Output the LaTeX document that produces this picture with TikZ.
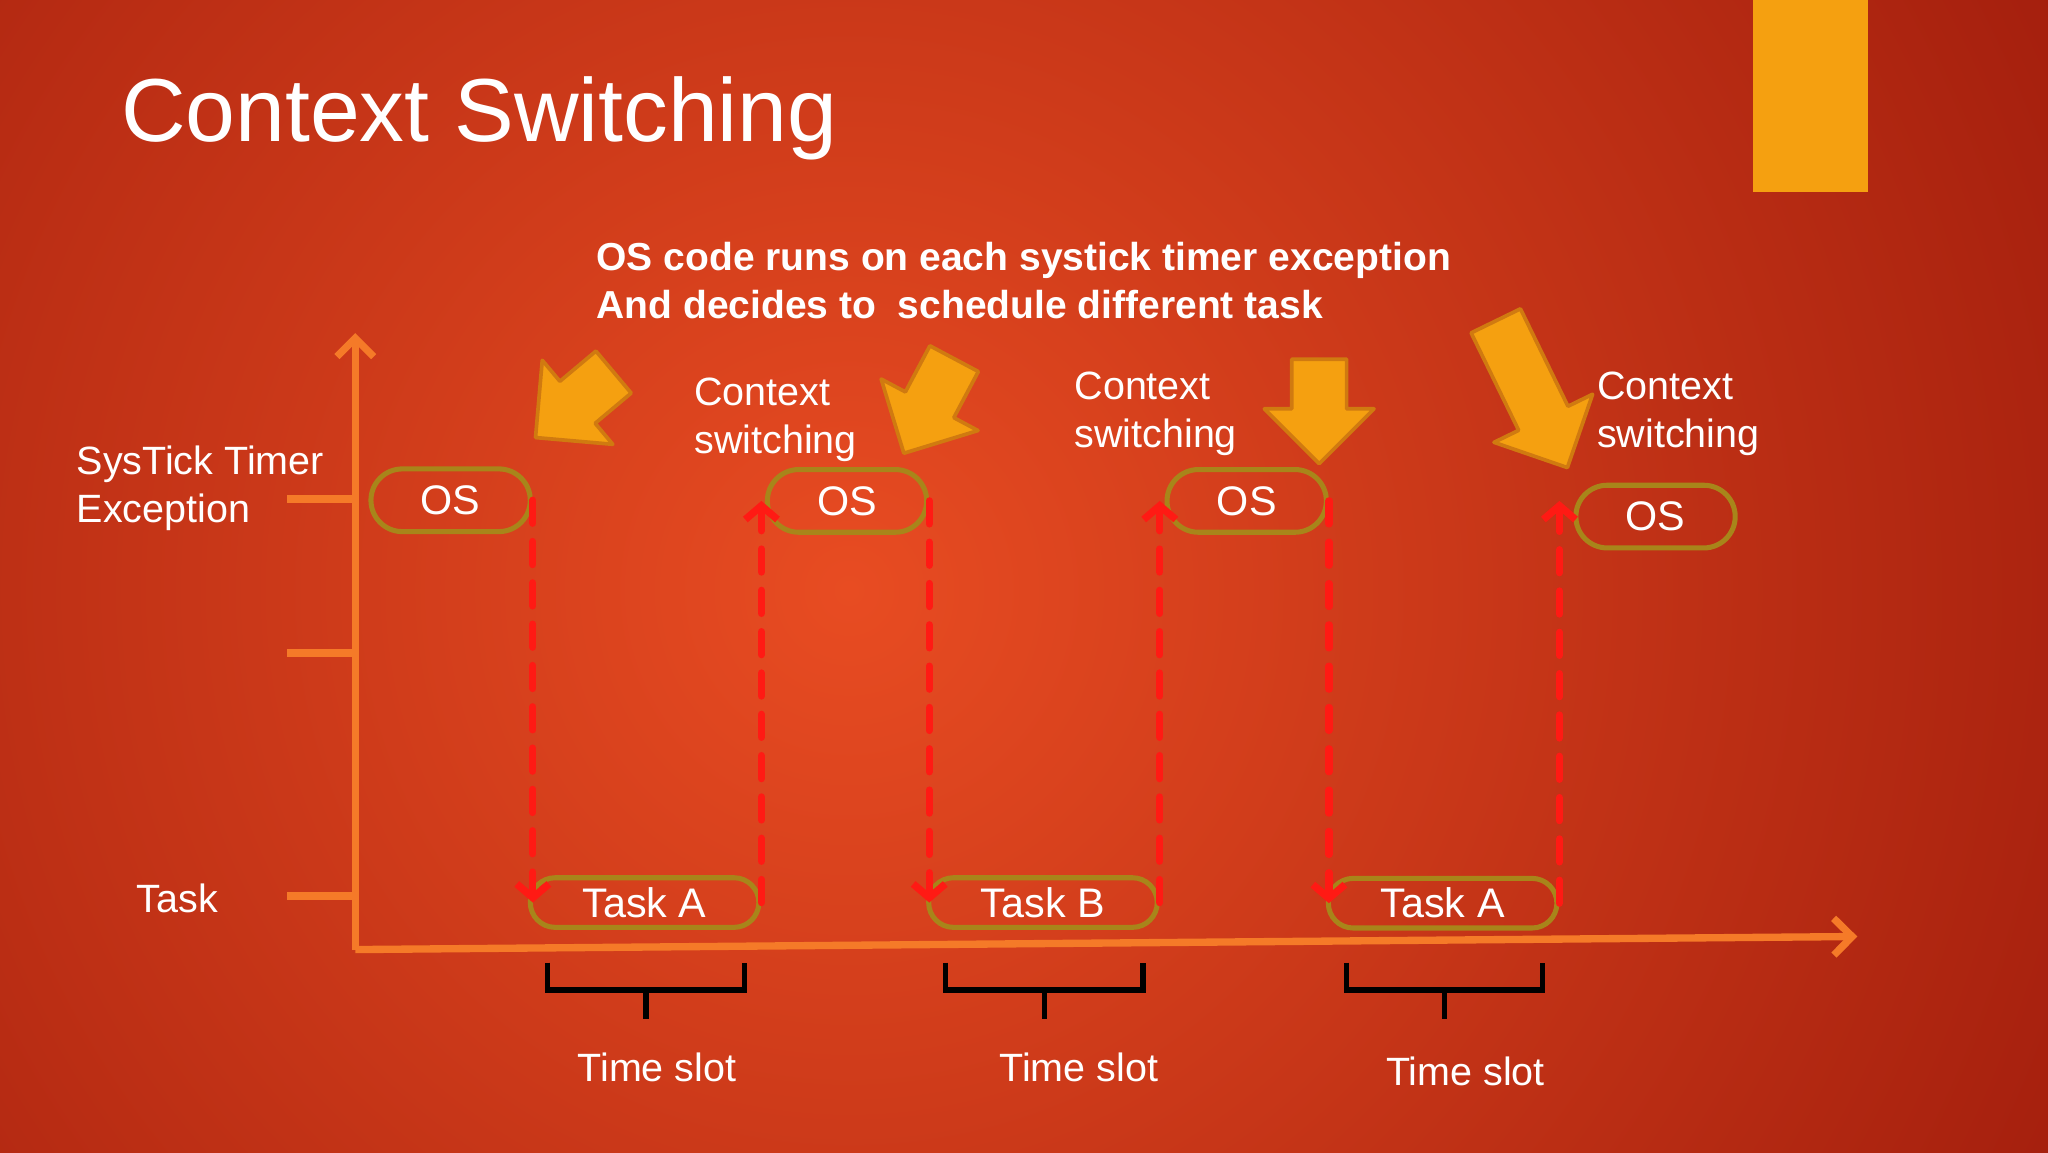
\documentclass[tikz,border=0pt]{standalone}
\usepackage{fontspec}
\setmainfont{Liberation Sans}
\usetikzlibrary{arrows.meta,calc}
\definecolor{bgdark}{HTML}{A01C0C}
\definecolor{bgmid}{HTML}{E84C22}
\definecolor{axis}{HTML}{F57A28}
\definecolor{gold}{HTML}{A8851A}
\definecolor{arrfill}{HTML}{F5A010}
\definecolor{arrline}{HTML}{D07A10}
\definecolor{dred}{HTML}{FF1A14}
\tikzset{
  osbox/.style={draw=gold,line width=1.1pt,rounded corners=0.24cm,minimum width=1.22cm,minimum height=0.48cm,inner sep=0pt,text=white,font=\fontsize{9}{11}\selectfont},
  taskbox/.style={draw=gold,line width=1.1pt,rounded corners=0.19cm,minimum width=1.75cm,minimum height=0.38cm,inner sep=0pt,text=white,font=\fontsize{9}{11}\selectfont},
  lbl/.style={text=white,font=\fontsize{8.6}{10.4}\selectfont,inner sep=0pt,align=left},
  dashline/.style={draw=dred,line width=1.6pt,dash pattern=on 5pt off 4pt,line cap=round,-{Straight Barb[length=3pt,width=7pt]}},
  axisline/.style={draw=axis,line width=1.6pt},
  brace/.style={draw=black,line width=1.2pt},
  fatarr/.style={fill=arrfill,draw=arrline,line width=0.8pt,line join=round}
}
\newcommand\fatarrow[3]{\begin{scope}[shift={#1},rotate=#2]
\draw[fatarr] (0,0)--(0.42,0.42)--(0.21,0.42)--(0.21,#3)--(-0.21,#3)--(-0.21,0.42)--(-0.42,0.42)--cycle;\end{scope}}
\newcommand\slotbrace[2]{\draw[brace] (#1,1.45)--(#1,1.24)--(#2,1.24)--(#2,1.45);
\draw[brace] ({(#1+#2)/2},1.24)--({(#1+#2)/2},1.02);}
\begin{document}
\begin{tikzpicture}
\useasboundingbox (0,0) rectangle (15.68,8.82);
\begin{scope}
\clip (0,0) rectangle (15.68,8.82);
\fill[bgdark] (-0.5,-0.5) rectangle (16.2,9.3);
\shade[inner color=bgmid,outer color=bgdark] (6.5,4.3) circle (11);
\end{scope}
\fill[arrfill] (13.42,7.35) rectangle (14.30,8.82);
\node[anchor=base west,text=white,font=\fontsize{19.5}{22}\selectfont,inner sep=0pt] (title) at (0.92,7.74) {Context Switching};
\node[lbl,anchor=north west,font=\bfseries\fontsize{8.5}{10.4}\selectfont] (note) at (4.56,6.97) {OS code runs on each systick timer exception\\And decides to\ \ schedule different task};
% axes
\coordinate (org) at (2.72,1.55);
\coordinate (ytop) at (2.72,6.27);
\coordinate (xend) at (14.22,1.65);
\draw[axisline,-{Straight Barb[length=4pt,width=8pt]}] (org)--(ytop);
\draw[axisline,-{Straight Barb[length=4pt,width=8pt]}] (org)--(xend);
\coordinate (t1) at (2.2,5.0); \coordinate (t2) at (2.2,3.82); \coordinate (t3) at (2.2,1.96);
\draw[axisline] (t1)--(t1-|org); \draw[axisline] (t2)--(t2-|org); \draw[axisline] (t3)--(t3-|org);
\node[lbl,anchor=west] (sys) at (0.58,5.08) {SysTick Timer\\Exception};
\node[lbl,anchor=west] (task) at (1.04,1.94) {Task};
% boxes
\node[osbox] (os1) at (3.45,4.99) {OS};
\node[osbox] (os2) at (6.485,4.985) {OS};
\node[osbox] (os3) at (9.545,4.985) {OS};
\node[osbox] (os4) at (12.675,4.865) {OS};
\node[taskbox] (ta1) at (4.935,1.91) {Task A};
\node[taskbox] (tb) at (7.985,1.91) {Task B};
\node[taskbox] (ta2) at (11.045,1.905) {Task A};
% dashed
\draw[dashline] (os1.east)--(os1.east|-ta1.west);
\draw[dashline] (ta1.east)--(ta1.east|-os2.west);
\draw[dashline] (os2.east)--(os2.east|-tb.west);
\draw[dashline] (tb.east)--(tb.east|-os3.west);
\draw[dashline] (os3.east)--(os3.east|-ta2.west);
\draw[dashline] (ta2.east)--(ta2.east|-os3.west);
% braces
\slotbrace{4.19}{5.70}
\slotbrace{7.24}{8.75}
\slotbrace{10.31}{11.81}
\node[lbl] (s1) at (5.03,0.65) {Time slot};
\node[lbl] (s2) at (8.26,0.65) {Time slot};
\node[lbl] (s3) at (11.22,0.62) {Time slot};
% context labels
\node[lbl,anchor=north west] (c1) at (5.31,5.93) {Context\\switching};
\node[lbl,anchor=north west] (c2) at (8.22,5.98) {Context\\switching};
\node[lbl,anchor=north west] (c3) at (12.22,5.98) {Context\\switching};
% big arrows
\fatarrow{(4.10,5.47)}{-50}{0.78}
\fatarrow{(6.92,5.35)}{-28}{0.82}
\fatarrow{(10.10,5.27)}{0}{0.8}
\fatarrow{(12.0,5.24)}{26}{1.25}
\end{tikzpicture}
\end{document}
